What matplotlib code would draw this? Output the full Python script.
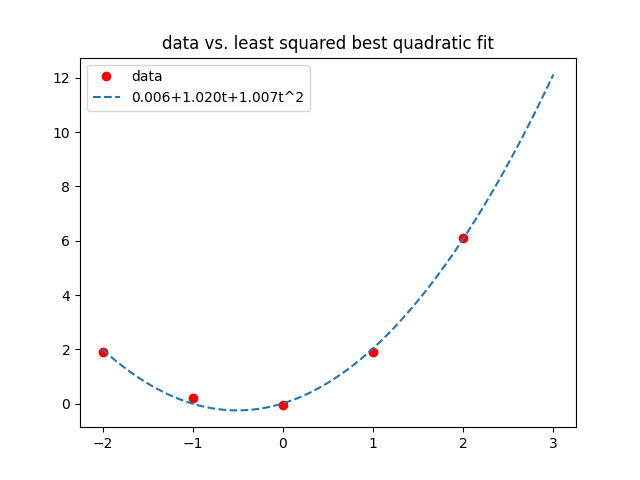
import numpy as np
import matplotlib
matplotlib.use("Agg")
import matplotlib.pyplot as plt

t_data = [-2, -1, 0, 1, 2]
y_data = [1.9, 0.2, -0.05, 1.9, 6.1]
coef = [0.006, 1.020, 1.007]
t_range = [-2, 3]

fig, ax = plt.subplots(figsize=(6.4, 4.8), dpi=100)
ax.plot(t_data, y_data, 'o', color='red', label='data')
t = np.linspace(t_range[0], t_range[1], 200)
y = coef[0] + coef[1] * t + coef[2] * t ** 2
ax.plot(t, y, '--', label=f'{coef[0]:.3f}+{coef[1]:.3f}t+{coef[2]:.3f}t^2')
ax.set_title('data vs. least squared best quadratic fit')
ax.legend(loc='upper left')
fig.savefig('out.png')
